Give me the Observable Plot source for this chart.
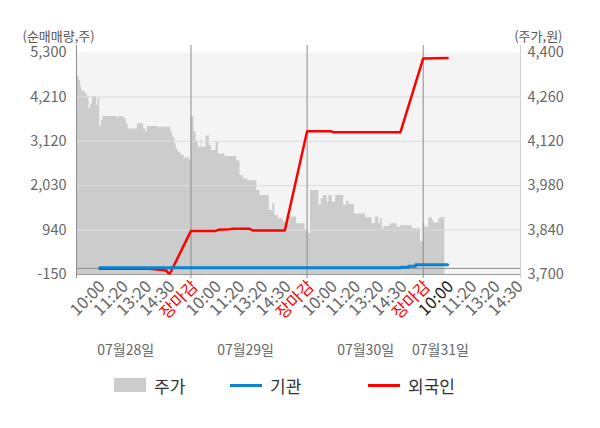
<!DOCTYPE html>
<html>
<head>
<meta charset="utf-8">
<script src="https://cdn.jsdelivr.net/npm/d3@7"></script>
<script src="https://cdn.jsdelivr.net/npm/@observablehq/plot@0.6"></script>
<style>
  body { margin: 0; background: #fff; font-family: "Noto Sans CJK KR", "Noto Sans", sans-serif; }
  #chart { width: 600px; }
  #legend { position: relative; width: 600px; height: 30px; font-size: 17px; color: #333; }
  .item { position: absolute; top: 0; height: 30px; display: flex; align-items: center; }
  .sw { width: 32px; margin-right: 8px; }
</style>
</head>
<body>
<div id="chart"></div>
<div id="legend">
  <div class="item" style="left:114px"><span class="sw" style="height:14px;background:#cccccc"></span><span>주가</span></div>
  <div class="item" style="left:230px"><span class="sw" style="height:3px;background:#0a83d0"></span><span>기관</span></div>
  <div class="item" style="left:368px"><span class="sw" style="height:3px;background:#ff0000"></span><span>외국인</span></div>
</div>
<script>
// ---- data ----
// x positions are in "slot" units: each trading day spans 5 slots (day boundaries at 5, 10, 15)
const leftTicks = [-150, 940, 2030, 3120, 4210, 5300];      // 순매매량 (주)
const priceTicks = [3700, 3840, 3980, 4120, 4260, 4400];    // 주가 (원)

const tickSlots  = [1, 2, 3, 4, 5, 6, 7, 8, 9, 10, 11, 12, 13, 14, 15, 16, 17, 18, 19];
const tickLabels = ["10:00","11:20","13:20","14:30","장마감",
                    "10:00","11:20","13:20","14:30","장마감",
                    "10:00","11:20","13:20","14:30","장마감",
                    "10:00","11:20","13:20","14:30"];
const dateLabels = ["07월28일", "07월29일", "07월30일", "07월31일"];
const dateSlots  = [2.19, 7.35, 12.52, 15.74];

// 주가
const priceT = [0.08,0.18,0.25,0.30,0.46,0.54,0.61,0.68,0.76,0.94,1.00,1.07,1.14,1.21,1.83,1.90,2.12,2.22,2.29,2.69,2.96,3.05,3.12,3.55,4.13,4.20,4.30,4.37,4.44,4.56,4.70,4.94,
  5.01,5.13,5.22,5.32,5.44,5.48,5.65,5.79,5.89,6.08,6.18,6.46,6.97,7.11,7.25,7.43,7.83,7.97,8.37,8.52,8.61,8.76,8.98,9.12,9.55,9.91,
  10.01,10.15,10.51,10.61,10.70,10.87,10.94,11.08,11.23,11.58,11.70,11.80,12.04,12.52,12.80,12.94,13.09,13.16,13.24,13.30,13.59,13.88,14.02,14.53,14.88,
  15.00,15.07,15.24,15.39,15.46,15.67,15.74,15.93];
const priceV = [4324,4312,4291,4277,4270,4259,4222,4238,4261,4233,4254,4167,4186,4198,4193,4198,4191,4175,4159,4175,4159,4149,4167,4164,4149,4133,4112,4096,4086,4077,4067,4059,
  4198,4149,4117,4101,4125,4101,4137,4107,4091,4117,4080,4072,4059,4012,4002,3996,3965,3949,3902,3923,3886,3876,3865,3881,3860,3839,
  3830,3965,3918,3939,3949,3928,3949,3928,3949,3918,3931,3921,3891,3879,3860,3881,3860,3876,3841,3851,3860,3849,3854,3844,3804,
  3860,3849,3879,3870,3862,3876,3879,3879];

// 기관
const instT = [1.07, 14.02, 14.37, 14.67, 16.05];
const instV = [15, 30, 55, 88, 88];

// 외국인
const forT = [1.07, 3.23, 3.94, 4.03, 4.10, 5.00, 6.07, 6.20, 6.67, 6.80, 7.53, 7.66, 9.04, 10.00, 11.01, 11.14, 14.02, 15.00, 16.05];
const forV = [-10, -10, -52, -118, -118, 920, 920, 950, 960, 972, 972, 930, 930, 3368, 3368, 3345, 3345, 5153, 5165];

const xDomain = [0.07, 19.19];
const dayLines = [5, 10, 15];

// ---- derived ----
const yDomain = [leftTicks[0], leftTicks[leftTicks.length - 1]];
const pDomain = [priceTicks[0], priceTicks[priceTicks.length - 1]];
const toLeft = p => yDomain[0] + (p - pDomain[0]) * (yDomain[1] - yDomain[0]) / (pDomain[1] - pDomain[0]);
const toPrice = v => Math.round(pDomain[0] + (v - yDomain[0]) * (pDomain[1] - pDomain[0]) / (yDomain[1] - yDomain[0]));

const price = priceT.map((t, i) => ({t, v: toLeft(priceV[i])}));
const inst = instT.map((t, i) => ({t, v: instV[i]}));
const foreign = forT.map((t, i) => ({t, v: forV[i]}));
const ticks = tickSlots.map((t, i) => ({t, label: tickLabels[i],
  color: tickLabels[i] === "장마감" ? "#ff0000" : (i === 15 ? "#222222" : "#666666")}));
const dates = dateSlots.map((t, i) => ({t, label: dateLabels[i]}));
const fmt = d => d.toLocaleString("en-US");
const tickText = color => Plot.text(ticks.filter(d => d.color === color),
  {x: "t", text: "label", rotate: -45, textAnchor: "end", frameAnchor: "bottom", dx: 8, dy: 13, fill: color, fontSize: 16.5});

const chart = Plot.plot({
  width: 600,
  height: 370,
  marginLeft: 76,
  marginRight: 80,
  marginTop: 52,
  marginBottom: 96,
  style: {fontFamily: '"Noto Sans CJK KR", "Noto Sans", sans-serif', fontSize: "14px", background: "#fff", overflow: "visible"},
  x: {domain: xDomain, axis: null},
  y: {domain: yDomain, axis: null},
  marks: [
    Plot.frame({fill: "#f4f4f4", stroke: null}),
    Plot.areaY(price, {x: "t", y1: yDomain[0], y2: "v", curve: "step-after", fill: "#cccccc"}),
    Plot.ruleY(leftTicks.slice(1, -1), {stroke: "#dddddd", strokeWidth: 1}),
    Plot.ruleY([0], {stroke: "#8c8c8c"}),
    Plot.ruleY([yDomain[0]], {stroke: "#9a9a9a"}),
    Plot.ruleX(dayLines, {stroke: "#8c8c8c", insetTop: -7, insetBottom: -4}),
    Plot.ruleX([xDomain[0]], {stroke: "#8c8c8c", insetTop: -7, insetBottom: -4}),
    Plot.ruleX([xDomain[1]], {stroke: "#cfcfcf", insetTop: -7, insetBottom: -4}),
    Plot.line(foreign, {x: "t", y: "v", stroke: "#ff0000", strokeWidth: 2.5}),
    Plot.line(inst, {x: "t", y: "v", curve: "step-after", stroke: "#0a83d0", strokeWidth: 3}),
    Plot.axisY(leftTicks, {anchor: "left", label: null, tickSize: 0, tickPadding: 10, tickFormat: fmt, fill: "#666", fontSize: 14.5}),
    Plot.axisY(leftTicks, {anchor: "right", label: null, tickSize: 0, tickPadding: 7, tickFormat: v => fmt(toPrice(v)), fill: "#666", fontSize: 14.5}),
    tickText("#666666"),
    tickText("#ff0000"),
    tickText("#222222"),
    Plot.text(dates, {x: "t", text: "label", frameAnchor: "bottom", dy: 80, fill: "#666", fontSize: 14}),
    Plot.text(["(순매매량,주)"], {frameAnchor: "top-left", dx: -54, dy: -21, textAnchor: "start", fill: "#555", fontSize: 13}),
    Plot.text(["(주가,원)"], {frameAnchor: "top-right", dx: 42, dy: -21, textAnchor: "end", fill: "#555", fontSize: 13})
  ]
});
document.getElementById("chart").appendChild(chart);
</script>
</body>
</html>
